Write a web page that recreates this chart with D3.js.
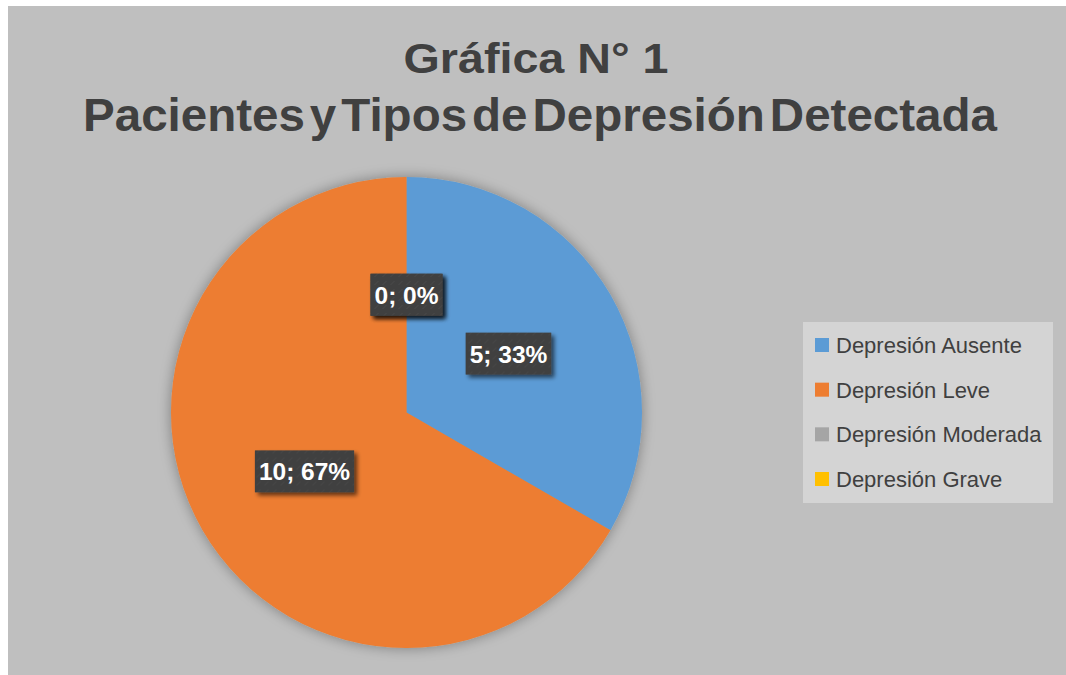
<!DOCTYPE html>
<html>
<head>
<meta charset="utf-8">
<script src="https://cdn.jsdelivr.net/npm/d3@7"></script>
<style>
  body { margin: 0; background: #ffffff; }
  svg { display: block; font-family: "Liberation Sans", Arial, sans-serif; }
</style>
</head>
<body>
<svg id="chart" width="1066" height="675"></svg>
<script>
// Gráfica N° 1 -- pie of patients per type of depression

var categories = ["Depresión Ausente", "Depresión Leve", "Depresión Moderada", "Depresión Grave"];
var values = [5, 10, 0, 0];
var colors = ["#5b9bd5", "#ed7d31", "#a5a5a5", "#ffc000"];
var titleLines = ["Gráfica N° 1", "Pacientes y Tipos de Depresión Detectada"];

var svg = d3.select("#chart");
var defs = svg.append("defs");

// soft halo around the pie
var halo = defs.append("filter").attr("id", "halo")
  .attr("x", "-20%").attr("y", "-20%").attr("width", "140%").attr("height", "140%");
halo.append("feGaussianBlur").attr("in", "SourceAlpha").attr("stdDeviation", 7).attr("result", "b");
halo.append("feComponentTransfer").attr("in", "b").attr("result", "s")
  .append("feFuncA").attr("type", "linear").attr("slope", 0.35);
var hm = halo.append("feMerge");
hm.append("feMergeNode").attr("in", "s");
hm.append("feMergeNode").attr("in", "SourceGraphic");

// label box shadow
var drop = defs.append("filter").attr("id", "drop")
  .attr("x", "-20%").attr("y", "-30%").attr("width", "150%").attr("height", "170%");
drop.append("feGaussianBlur").attr("in", "SourceAlpha").attr("stdDeviation", 2).attr("result", "b");
drop.append("feOffset").attr("in", "b").attr("dx", 3).attr("dy", 3).attr("result", "o");
drop.append("feComponentTransfer").attr("in", "o").attr("result", "s")
  .append("feFuncA").attr("type", "linear").attr("slope", 0.6);
var dm = drop.append("feMerge");
dm.append("feMergeNode").attr("in", "s");
dm.append("feMergeNode").attr("in", "SourceGraphic");

// faint hatch on the label boxes
var hatch = defs.append("pattern").attr("id", "hatch")
  .attr("width", 8).attr("height", 8).attr("patternUnits", "userSpaceOnUse");
hatch.append("rect").attr("width", 8).attr("height", 8).attr("fill", "#404040");
hatch.append("path").attr("d", "M0,6 L4,2").attr("stroke", "#4a4a4a").attr("stroke-width", 1);

///////////////////////////////////////////////////////////////////////////////
// Chart area and title

svg.append("rect")
  .attr("x", 8).attr("y", 6).attr("width", 1058).attr("height", 669)
  .attr("fill", "#bfbfbf");

svg.append("text")
  .attr("x", 536).attr("y", 73)
  .attr("text-anchor", "middle")
  .attr("font-size", 43).attr("font-weight", "bold")
  .attr("fill", "#404040")
  .attr("textLength", 265).attr("lengthAdjust", "spacingAndGlyphs")
  .text(titleLines[0]);

svg.append("text")
  .attr("x", 540).attr("y", 131)
  .attr("text-anchor", "middle")
  .attr("font-size", 46).attr("font-weight", "bold")
  .attr("fill", "#404040")
  .attr("word-spacing", -8)
  .attr("textLength", 914).attr("lengthAdjust", "spacingAndGlyphs")
  .text(titleLines[1]);

///////////////////////////////////////////////////////////////////////////////
// Pie

var cx = 406.5, cy = 412.5, radius = 235.5;

var pie = d3.pie().sort(null).value(function (d) { return d; });
var arcs = pie(values);
var arc = d3.arc().innerRadius(0).outerRadius(radius);
var total = d3.sum(values);

var g = svg.append("g").attr("transform", "translate(" + cx + "," + cy + ")");

g.append("g").attr("filter", "url(#halo)")
  .selectAll("path")
  .data(arcs)
  .join("path")
  .attr("d", arc)
  .attr("fill", function (d, i) { return colors[i]; });

// data labels "value; pct" at half radius along the slice middle
var labels = g.selectAll("g.label")
  .data(arcs)
  .join("g")
  .attr("class", "label")
  .attr("transform", function (d) {
    var c = arc.centroid(d);
    return "translate(" + c[0] + "," + c[1] + ")";
  });

labels.each(function (d) {
  var el = d3.select(this);
  var txt = d.data + "; " + Math.round(d.data / total * 100) + "%";
  var t = el.append("text")
    .attr("text-anchor", "middle")
    .attr("y", 9)
    .attr("font-size", 24.5).attr("font-weight", "bold")
    .attr("fill", "#ffffff")
    .text(txt);
  var w = t.node().getComputedTextLength() + 8;
  el.insert("rect", "text")
    .attr("x", -w / 2).attr("y", -21)
    .attr("width", w).attr("height", 42)
    .attr("fill", "url(#hatch)")
    .attr("filter", "url(#drop)");
});

///////////////////////////////////////////////////////////////////////////////
// Legend

var legend = svg.append("g").attr("transform", "translate(803,322)");

legend.append("rect")
  .attr("width", 250).attr("height", 181)
  .attr("fill", "#d4d4d4");

var rowY = d3.scalePoint().domain(categories).range([23, 157]);

var rows = legend.selectAll("g.row")
  .data(categories)
  .join("g")
  .attr("class", "row")
  .attr("transform", function (d) { return "translate(0," + rowY(d) + ")"; });

rows.append("rect")
  .attr("x", 12).attr("y", -7)
  .attr("width", 14).attr("height", 14)
  .attr("fill", function (d, i) { return colors[i]; });

rows.append("text")
  .attr("x", 33).attr("y", 8)
  .attr("font-size", 22)
  .attr("fill", "#404040")
  .text(function (d) { return d; });
</script>
</body>
</html>
